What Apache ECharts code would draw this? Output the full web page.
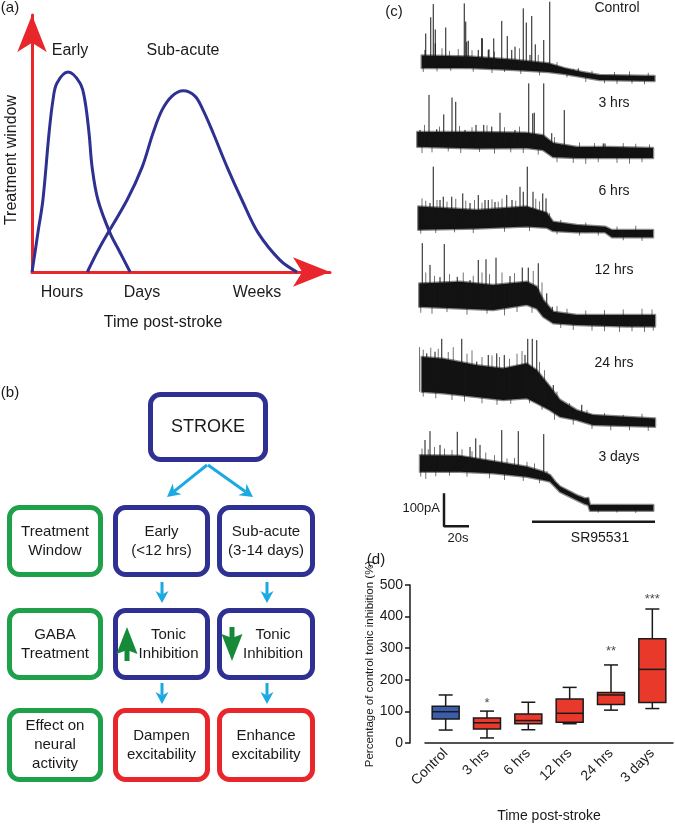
<!DOCTYPE html>
<html>
<head>
<meta charset="utf-8">
<script src="https://cdn.jsdelivr.net/npm/echarts@6/dist/echarts.min.js"></script>
<style>
  html, body { margin: 0; padding: 0; background: #fff; }
  #chart { width: 675px; height: 825px; }
</style>
</head>
<body>
<div id="chart"></div>
<script>
// ---- (a) treatment windows: [time, window size], arbitrary units
const earlyWindow = [[0,0],[1.1,8.4],[2.1,16.4],[3.9,30.2],[6.1,58.3],[7.5,72.1],[8.9,79.2],[12.9,83.9],[17.2,79.2],[18.9,72.1],[20.4,58.3],[21.5,44],[23.6,30.2],[27.9,16.4],[31.5,8.2],[35.1,0]]
const subacuteWindow = [[19.8,0],[24.3,10.5],[34,30.2],[39.4,44],[43.3,58.3],[46.5,67.9],[50.1,73.8],[54.1,76],[58.3,73.8],[61.2,67.9],[64.8,58.3],[69.8,44],[75.1,30.2],[80.9,16.4],[88.7,5],[94.8,0]]
const windowNames = ['Early', 'Sub-acute']
const timeWords = ['Hours', 'Days', 'Weeks']

// ---- (b) flowchart text
const strokeText = 'STROKE'
const rowNames = ['Treatment\nWindow', 'GABA\nTreatment', 'Effect on\nneural\nactivity']
const earlyPath = ['Early\n(<12 hrs)', 'Tonic\nInhibition', 'Dampen\nexcitability']
const subacutePath = ['Sub-acute\n(3-14 days)', 'Tonic\nInhibition', 'Enhance\nexcitability']

// ---- (c) traces: bands [t (s), low (pA), high (pA)], spikes and noise hairs [t (s), tip (pA)]
const controlBand = [[3.8,30,68],[42,30,65],[78,24,55],[105,18,45],[118,12,30],[132,3,18],[146,-6,9],[190,-9,6]]
const controlSpikes = [[7,135],[11,184],[13,224],[14.6,147],[23,153],[37.8,226],[39,171],[41,113],[52.2,120],[57.6,87],[61.4,120],[67.8,173],[72.2,127],[85,211],[87.4,168],[91.8,188],[94.6,102],[101.4,115],[106.2,231],[129,29],
  [6.4,85],[14.6,105],[39.8,110],[49,85],[51.8,121],[57,85],[75.8,85],[78.4,95],[90.4,70],[113,29]]
const controlHairs = [[5,18],[16,20],[27,22],[45,19],[60,15],[70,18],[83,12],[98,8],[120,2],[135,-12],[150,-16],[160,-18],[172,-17],[182,-19],
  [20,90],[26,82],[33,88],[44,84],[62,80],[82,90],[97,70],[112,48],[125,28],[140,22],[158,18],[170,20],[185,16]]
const hrs3Band = [[0.2,19,64],[47.8,14,64],[87.8,15,61],[100.8,9,54],[108.8,-12,30],[128,-15,18],[154.4,-15,18],[188.8,-15,15]]
const hrs3Spikes = [[9.6,176],[21.4,117],[28,168],[31,155],[47.2,85],[53.4,85],[66.4,122],[89.4,211],[92.6,120],[93.8,122],[101.4,211],[117.8,130],[149,29],
  [2.4,70],[15.8,72],[38.4,70],[59.8,80],[78.4,70],[107.8,60],[123.8,19],[150.4,29]]
const hrs3Hairs = [[4,0],[12,2],[25,5],[35,0],[50,3],[62,-2],[75,2],[85,0],[97,-5],[112,-28],[125,-30],[135,-33],[145,-28],[160,-30],[170,-32],[180,-28],
  [6,85],[18,80],[34,82],[44,78],[56,84],[70,78],[82,80],[110,48],[130,32],[142,30],[165,30],[175,28],[186,26]]
const hrs6Band = [[1,10,80],[47.8,14,70],[87.8,20,80],[103.8,16,61],[108.8,6,34],[127.8,2,24],[150.4,2,19],[156,-13,9],[188.8,-13,9]]
const hrs6Spikes = [[13,201],[21,110],[27.8,110],[36.6,120],[49,115],[54.4,100],[57,100],[71.8,115],[82.4,140],[85,125],[88.2,201],[92.8,125],[100.6,120],[103.2,105],[10.4,91],[18.4,100],[42.4,91],[62.4,94],[76,100]]
const hrs6Hairs = [[4,105],[7,98],[16,100],[24,95],[31,104],[39,98],[46,100],[52,92],[60,102],[65,95],[68,104],[79,98],[95,104],[98,96],[106,60],[115,40],[135,32],[160,20],[175,22],
  [3,-2],[15,0],[30,2],[45,0],[70,4],[90,6],[112,-4],[130,-8],[145,-8],[165,-22],[180,-24]]
const hrs12Band = [[1.8,46,117],[34.4,41,122],[61,36,112],[87.8,52,122],[95.8,41,107],[101,16,67],[109,-4,31],[127.8,-9,21],[167.8,-14,21],[190.4,-14,21]]
const hrs12Spikes = [[4.2,239],[10.4,173],[21.8,236],[32.2,137],[49,188],[55.2,190],[63.2,195],[84.2,165],[89,165],[97,178],[103.8,87],[108.2,46],[18.4,136],[42.4,127],[74.4,139]]
const hrs12Hairs = [[7,150],[14,140],[26,145],[37,150],[45,140],[52,150],[58,145],[68,150],[78,148],[93,155],[100,120],[112,48],[120,40],[135,35],[150,36],[165,38],[180,40],[188,38],
  [3,28],[12,25],[24,30],[40,22],[56,25],[70,20],[80,30],[92,28],[115,-18],[125,-24],[140,-26],[150,-28],[162,-30],[172,-28],[182,-30],[189,-26]]
const hrs24Band = [[3.8,95,200],[21,90,195],[47.8,79,175],[69,70,165],[87.8,75,180],[95.8,60,160],[106.4,39,110],[114.4,19,70],[127.8,9,39],[141,-6,24],[190.4,-11,14]]
const hrs24Spikes = [[19.8,255],[35.8,255],[7.8,211],[14.4,216],[57,206],[63.8,211],[69.8,206],[88.6,255],[92.2,255],[95.8,251],[86.4,206],[105,110],[109,115],[117,60],[131.8,55],[47.8,186]]
const hrs24Hairs = [[2,230],[5,222],[11,228],[17,225],[25,215],[29,230],[40,210],[44,220],[52,200],[60,205],[66,200],[74,195],[80,210],[84,218],[98,185],[102,160],[112,95],[122,60],[136,40],[150,30],[165,25],[180,28],
  [5,80],[15,75],[28,70],[38,65],[52,60],[64,55],[75,58],[90,60],[100,40],[110,10],[125,-5],[140,-18],[155,-22],[170,-22],[185,-24]]
const days3Band = [[2.4,110,160],[34.4,110,158],[61,105,142],[87.8,95,125],[101,85,110],[106.4,80,100],[110.4,65,80],[114.4,49,65],[127.8,24,39],[134.4,12,29],[137,9,30],[138.4,-8,9],[189,-8,9]]
const days3Spikes = [[10.4,233],[32.2,231],[47,211],[67.8,236],[81,233],[101.4,224],[6.4,206],[18.4,191],[50.4,191],[42.4,185]]
const days3Hairs = [[4,180],[9,178],[14,185],[22,180],[28,176],[36,178],[44,172],[55,168],[62,160],[72,150],[78,152],[88,140],[94,135],[104,112],[124,50],
  [3,95],[7,88],[15,96],[26,98],[40,95],[58,90],[70,85],[85,82],[98,75],[145,-14],[160,-14],[175,-15]]
const scaleBarPa = 100
const scaleBarS = 20

// ---- (d) tonic inhibition (% of control)
const timePoints = ['Control', '3 hrs', '6 hrs', '12 hrs', '24 hrs', '3 days']
const whiskerLow = [41, 16, 42, 61, 104, 109]
const quartile1 = [76, 44, 61, 66, 122, 128]
const medians = [99, 64, 71, 94, 152, 233]
const quartile3 = [116, 79, 92, 139, 160, 330]
const whiskerHigh = [152, 101, 129, 176, 247, 424]
const sigMarks = ['', '*', '', '', '**', '***']
const sigHeights = [null, 134, null, null, 299, 463]

const FONT = 'Liberation Sans, Arial, sans-serif'
const RED = '#e8262b'
const NAVY = '#2e3192'
const GREEN = '#1fa04b'
const CYAN = '#1ba9e1'
const INK = '#1a1a1a'

const chart = echarts.init(document.getElementById('chart'))

// ---------- layout helpers
function txt(x, y, text, size, extra) {
  return Object.assign({
    type: 'text', x, y,
    style: { text, fill: INK, font: size + 'px ' + FONT, align: 'center', verticalAlign: 'middle', lineHeight: Math.round(size * 1.25) }
  }, extra || {})
}

function box(x1, y1, x2, y2, color, text, size, dx) {
  return [
    { type: 'rect', shape: { x: x1 + 2.5, y: y1 + 2.5, width: x2 - x1 - 5, height: y2 - y1 - 5, r: 10 },
      style: { fill: '#fff', stroke: color, lineWidth: 5 } },
    txt((x1 + x2) / 2 + (dx || 0), (y1 + y2) / 2, text, size)
  ]
}

function arrow(x1, y1, x2, y2, color, len, half) {
  const d = Math.hypot(x2 - x1, y2 - y1)
  const ux = (x2 - x1) / d, uy = (y2 - y1) / d
  const nx = -uy, ny = ux
  const bx = x2 - len * ux, by = y2 - len * uy
  const mx = x2 - len * 0.7 * ux, my = y2 - len * 0.7 * uy
  return [
    { type: 'line', shape: { x1, y1, x2: mx, y2: my }, style: { stroke: color, lineWidth: 3 } },
    { type: 'polygon', shape: { points: [[x2, y2], [bx + half * nx, by + half * ny], [mx, my], [bx - half * nx, by - half * ny]] },
      style: { fill: color } }
  ]
}

// ---------- flowchart (b)
const colX = [[7, 103], [113, 210], [217, 315]]
const rowY = [[505, 577], [608, 680], [708, 782]]
const flow = []
flow.push(...box(148, 392, 268, 462, NAVY, strokeText, 18))
rowY.forEach((r, i) => {
  flow.push(...box(colX[0][0], r[0], colX[0][1], r[1], GREEN, rowNames[i], 15))
  const c = i === 2 ? RED : NAVY
  const dx = i === 1 ? 7 : 0
  flow.push(...box(colX[1][0], r[0], colX[1][1], r[1], c, earlyPath[i], 15, dx))
  flow.push(...box(colX[2][0], r[0], colX[2][1], r[1], c, subacutePath[i], 15, dx))
})
flow.push(...arrow(207, 465, 167, 497, CYAN, 13, 7))
flow.push(...arrow(208, 465, 253, 497, CYAN, 13, 7))
;[162, 267].forEach(x => {
  flow.push(...arrow(x, 582, x, 603, CYAN, 12, 6.5))
  flow.push(...arrow(x, 683, x, 704, CYAN, 12, 6.5))
})
// green up / down arrows
flow.push({ type: 'polygon', shape: { points: [[127, 627], [137.5, 654], [129.5, 651], [129.5, 661], [124.5, 661], [124.5, 651], [116.5, 654]] }, style: { fill: '#178a3a' } })
flow.push({ type: 'polygon', shape: { points: [[229.5, 627], [234.5, 627], [234.5, 637], [242.5, 634], [232, 661], [221.5, 634], [229.5, 637]] }, style: { fill: '#178a3a' } })

// ---------- texts
const texts = [
  txt(10, 8, '(a)', 15),
  txt(10, 393, '(b)', 15),
  txt(394, 12, '(c)', 15),
  txt(376, 560, '(d)', 15),
  txt(70, 51, windowNames[0], 16),
  txt(183, 51, windowNames[1], 16),
  txt(62, 293, timeWords[0], 16),
  txt(142, 293, timeWords[1], 16),
  txt(257, 293, timeWords[2], 16),
  txt(163, 323, 'Time post-stroke', 16),
  txt(12, 160, 'Treatment window', 16, { rotation: Math.PI / 2 }),
  txt(440, 508, scaleBarPa + 'pA', 13, { style: { text: scaleBarPa + 'pA', fill: INK, font: '13px ' + FONT, align: 'right', verticalAlign: 'middle' } }),
  txt(458, 538, scaleBarS + 's', 13),
  txt(600, 538, 'SR95531', 14)
]
const labelX = [617, 614, 614, 614, 614, 619]
const labelY = [8, 103, 191, 270, 363, 457]
timePoints.forEach((n, i) => texts.push(txt(labelX[i], labelY[i], n, 14)))

// ---------- (a) axes with arrow heads
const grids = [{ left: 32, top: 15, width: 298, height: 257, outerBoundsMode: 'none' }]
const arrowAxis = {
  type: 'value', min: 0,
  axisLine: { show: true, symbol: ['none', 'arrow'], symbolSize: [22, 37], lineStyle: { color: RED, width: 3 } },
  axisTick: { show: false }, axisLabel: { show: false }, splitLine: { show: false }
}
const xAxes = [Object.assign({ gridIndex: 0, max: 106.6 }, arrowAxis)]
const yAxes = [Object.assign({ gridIndex: 0, max: 107.8 }, arrowAxis)]
const series = [
  { type: 'line', xAxisIndex: 0, yAxisIndex: 0, data: earlyWindow, smooth: 0.35, symbol: 'none', lineStyle: { color: NAVY, width: 3 }, silent: true },
  { type: 'line', xAxisIndex: 0, yAxisIndex: 0, data: subacuteWindow, smooth: 0.35, symbol: 'none', lineStyle: { color: NAVY, width: 3 }, silent: true }
]

// ---------- (c) one grid per recording
const PX_PER_PA = 0.33
const traceBaseY = [78, 153, 233, 322, 423, 508]
const traceBands = [controlBand, hrs3Band, hrs6Band, hrs12Band, hrs24Band, days3Band]
const traceSpikes = [controlSpikes, hrs3Spikes, hrs6Spikes, hrs12Spikes, hrs24Spikes, days3Spikes]
const traceHairs = [controlHairs, hrs3Hairs, hrs6Hairs, hrs12Hairs, hrs24Hairs, days3Hairs]

traceBaseY.forEach((b, k) => {
  const gi = k + 1
  grids.push({ left: 417, width: 238, top: b - 240 * PX_PER_PA, height: 280 * PX_PER_PA, outerBoundsMode: 'none' })
  xAxes.push({ gridIndex: gi, type: 'value', min: 0, max: 190.4, show: false })
  yAxes.push({ gridIndex: gi, type: 'value', min: -40, max: 240, show: false })
  const band = traceBands[k]
  series.push({
    type: 'custom', xAxisIndex: gi, yAxisIndex: gi, silent: true, clip: false,
    data: band,
    renderItem(params, api) {
      if (params.dataIndex !== 0) return null
      const upper = band.map(p => api.coord([p[0], p[2]]))
      const lower = band.map(p => api.coord([p[0], p[1]])).reverse()
      return { type: 'polygon', shape: { points: upper.concat(lower) },
        style: { fill: '#121212', stroke: 'rgba(20,20,20,0.5)', lineWidth: 2.5, lineJoin: 'round' } }
    }
  })
  const events = traceSpikes[k].map(p => p.concat(1)).concat(traceHairs[k].map(p => p.concat(0.8)))
  series.push({
    type: 'custom', xAxisIndex: gi, yAxisIndex: gi, silent: true, clip: false,
    data: events,
    renderItem(params, api) {
      const t = api.value(0), tip = api.value(1)
      let j = band.findIndex(p => p[0] >= t)
      if (j < 0) j = band.length - 1
      const prev = band[Math.max(j - 1, 0)], next = band[j]
      const lo = Math.max(prev[1], next[1]), hi = Math.min(prev[2], next[2])
      const base = tip > hi ? lo : hi
      const a = api.coord([t, base]), c = api.coord([t, tip])
      return { type: 'line', shape: { x1: a[0], y1: a[1], x2: c[0], y2: c[1] },
        style: { stroke: '#151515', lineWidth: api.value(2), opacity: api.value(2) === 1 ? 1 : 0.75 } }
    }
  })
})

// scale bar and drug application bar on the last trace's axes
series.push({
  type: 'line', xAxisIndex: 6, yAxisIndex: 6, clip: false, silent: true, symbol: 'none',
  data: [[21.6, -55 + scaleBarPa], [21.6, -55], [21.6 + scaleBarS, -55]],
  lineStyle: { color: INK, width: 2.5 }
})
series.push({
  type: 'line', xAxisIndex: 6, yAxisIndex: 6, clip: false, silent: true, symbol: 'none',
  data: [[92, -42], [190.4, -42]],
  lineStyle: { color: INK, width: 2.5 }
})

// ---------- (d) box plot
grids.push({ left: 425, top: 585, width: 248, height: 158, outerBoundsMode: 'none' })
xAxes.push({
  gridIndex: 7, type: 'category', data: timePoints,
  axisLine: { lineStyle: { color: INK, width: 1.5 } },
  axisTick: { alignWithLabel: true, length: 6, lineStyle: { color: INK, width: 1.5 } },
  axisLabel: { rotate: 45, fontSize: 14, color: INK, margin: 8, fontFamily: FONT },
  name: 'Time post-stroke', nameLocation: 'middle', nameGap: 66,
  nameTextStyle: { fontSize: 14, color: INK, fontFamily: FONT }
})
yAxes.push({
  gridIndex: 7, type: 'value', min: 0, max: 500, interval: 100, offset: 15,
  axisLine: { show: true, lineStyle: { color: INK, width: 1.5 } },
  axisTick: { show: true, length: 5, lineStyle: { color: INK, width: 1.5 } },
  axisLabel: { fontSize: 14, color: INK, margin: 7, fontFamily: FONT },
  splitLine: { show: false },
  name: 'Percentage of control tonic inhibition (%)', nameLocation: 'middle', nameGap: 33,
  nameTextStyle: { fontSize: 11.5, color: INK, fontFamily: FONT }
})
series.push({
  type: 'custom', xAxisIndex: 7, yAxisIndex: 7, silent: true,
  data: timePoints.map((c, i) => [i, whiskerLow[i], quartile1[i], medians[i], quartile3[i], whiskerHigh[i]]),
  renderItem(params, api) {
    const i = api.value(0)
    const lo = api.coord([i, api.value(1)]), q1 = api.coord([i, api.value(2)])
    const md = api.coord([i, api.value(3)]), q3 = api.coord([i, api.value(4)])
    const hi = api.coord([i, api.value(5)])
    const x = lo[0], bw = 27, cap = 7
    const st = { stroke: INK, lineWidth: 1.5 }
    return {
      type: 'group',
      children: [
        { type: 'line', shape: { x1: x, y1: hi[1], x2: x, y2: q3[1] }, style: st },
        { type: 'line', shape: { x1: x, y1: q1[1], x2: x, y2: lo[1] }, style: st },
        { type: 'line', shape: { x1: x - cap, y1: hi[1], x2: x + cap, y2: hi[1] }, style: st },
        { type: 'line', shape: { x1: x - cap, y1: lo[1], x2: x + cap, y2: lo[1] }, style: st },
        { type: 'rect', shape: { x: x - bw / 2, y: q3[1], width: bw, height: q1[1] - q3[1] },
          style: { fill: i === 0 ? '#3b5dab' : '#e8392a', stroke: INK, lineWidth: 1.5 } },
        { type: 'line', shape: { x1: x - bw / 2, y1: md[1], x2: x + bw / 2, y2: md[1] }, style: st }
      ]
    }
  }
})
series.push({
  type: 'scatter', xAxisIndex: 7, yAxisIndex: 7, silent: true, symbolSize: 0,
  data: sigHeights.map((h, i) => h == null ? null : { value: [i, h], name: sigMarks[i] }).filter(Boolean),
  label: { show: true, position: 'inside', offset: [0, 3], formatter: p => p.name, fontSize: 13, color: INK, fontFamily: FONT }
})

chart.setOption({
  animation: false,
  backgroundColor: '#fff',
  textStyle: { fontFamily: FONT },
  grid: grids,
  xAxis: xAxes,
  yAxis: yAxes,
  series,
  graphic: { elements: flow.concat(texts) }
})
</script>
</body>
</html>
